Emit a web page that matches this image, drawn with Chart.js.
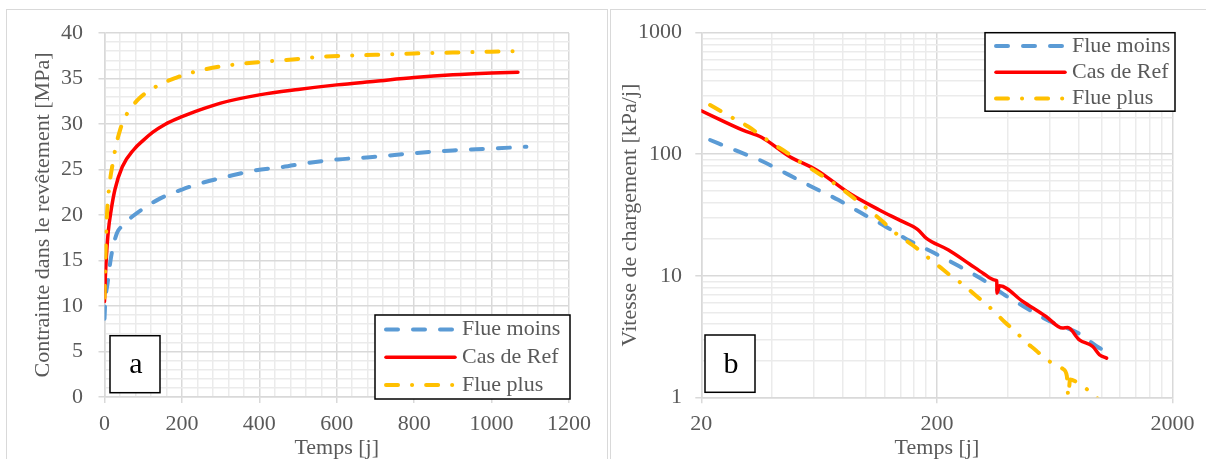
<!DOCTYPE html>
<html>
<head>
<meta charset="utf-8">
<script src="https://cdn.jsdelivr.net/npm/chart.js@4.4.1/dist/chart.umd.min.js"></script>
<style>
  html, body { margin: 0; padding: 0; background: #fff; overflow: hidden; }
  body { width: 1206px; height: 459px; position: relative; }
  .panel { position: absolute; top: 9px; height: 470px; border: 1.5px solid #d9d9d9; box-sizing: border-box; }
  #panelA { left: 6px; width: 602px; }
  #panelB { left: 610px; width: 620px; }
  canvas { position: absolute; top: 0; }
  #chartA { left: 0; }
  #chartB { left: 603px; }
</style>
</head>
<body>
<div class="panel" id="panelA"></div>
<div class="panel" id="panelB"></div>
<canvas id="chartA" width="603" height="470"></canvas>
<canvas id="chartB" width="603" height="470"></canvas>
<script>
// Panneau a : contrainte dans le revêtement [MPa] vs temps [j]
const tempsMoinsA = [0, 2, 8, 17, 32, 46, 71, 100, 143, 200, 250, 315, 388, 457, 530, 602, 700, 800, 900, 1000, 1090];
const contrMoinsA = [8.6, 10.5, 12.5, 15.4, 18, 18.8, 19.8, 20.7, 21.8, 22.8, 23.5, 24.2, 24.9, 25.25, 25.75, 26.1, 26.4, 26.8, 27.1, 27.3, 27.5];
const tempsRefA = [0, 2, 5, 10, 17, 27, 46, 76, 100, 125, 156, 200, 250, 300, 400, 500, 600, 700, 800, 900, 1000, 1068];
const contrRefA = [10.5, 13, 15.5, 18.3, 20.5, 22.8, 25.3, 27.2, 28.2, 29.1, 29.95, 30.8, 31.6, 32.3, 33.2, 33.8, 34.3, 34.7, 35.1, 35.4, 35.6, 35.7];
const tempsPlusA = [0, 2, 4, 7, 14, 21, 30, 40, 50, 66, 87, 117, 156, 186, 221, 259, 296, 341, 412, 486, 564, 700, 800, 900, 1000, 1060];
const contrPlusA = [10.9, 14.5, 17.5, 20.5, 23.7, 25.6, 27.7, 29.3, 30.5, 31.6, 32.7, 33.7, 34.6, 35.1, 35.6, 36, 36.3, 36.55, 36.85, 37.1, 37.4, 37.6, 37.75, 37.85, 37.95, 38];

// Panneau b : vitesse de chargement [kPa/j] vs temps [j] (log-log)
const tempsMoinsB = [21.8, 27.8, 36.1, 46.2, 60.6, 76.5, 94.8, 120, 148, 196, 250, 314, 383, 481, 605, 795, 956, 1060];
const vitMoinsB = [131, 108, 88, 68.9, 52.5, 42, 33.1, 25.7, 20.1, 15.3, 11.9, 9.25, 7.06, 5.41, 4.2, 3.38, 2.62, 2.36];
const tempsRefB = [20, 30, 36, 47.5, 61.6, 85, 114, 141, 166, 180, 224, 275, 314, 351, 359, 360, 369, 463, 581, 683, 718, 805, 917, 979, 1050];
const vitRefB = [228, 158, 138, 95.5, 74.3, 47.8, 34.8, 28.3, 24, 20.4, 16.3, 12.5, 10.5, 9.25, 9.1, 7.2, 8.27, 6.14, 4.62, 3.71, 3.75, 2.97, 2.62, 2.24, 2.1];
const tempsPlusB = [21.8, 24.8, 27.8, 31.6, 36.1, 40.2, 45.5, 51.5, 58, 65.2, 73.7, 82.9, 93.1, 104.8, 116.8, 128.6, 146, 162, 182, 205, 226, 257, 290, 320, 356, 390, 431, 474, 527, 580, 686, 712, 722, 735, 785, 884, 965];
const vitPlusB = [254, 220, 194, 169, 141, 122, 105, 88.5, 76.7, 66.4, 57, 48.3, 40.5, 33.7, 28.4, 23.8, 19.8, 17.2, 14.3, 11.9, 10.2, 8.53, 6.97, 5.96, 4.92, 4.12, 3.48, 2.88, 2.43, 2.06, 1.71, 1.5, 1.02, 1.4, 1.33, 1.13, 0.97];

const serieNames = ['Flue moins', 'Cas de Ref', 'Flue plus'];
const serieColors = ['#5B9BD5', '#FF0000', '#FFC000'];

// tick labels (grid lines in between are minor)
const xLabelsA = [0, 200, 400, 600, 800, 1000, 1200];
const yLabelsA = [0, 5, 10, 15, 20, 25, 30, 35, 40];
const xLabelsB = [20, 200, 2000];
const yLabelsB = [1, 10, 100, 1000];

const GRID_MAJOR = '#d9d9d9';
const GRID_MINOR = '#ebebeb';
const TEXT_GREY = '#595959';
const FONT = "'Liberation Serif', 'Times New Roman', serif";

Chart.defaults.font.family = FONT;
Chart.defaults.color = TEXT_GREY;

const lineStyles = [
  { borderWidth: 4, borderDash: [12, 15] },
  { borderWidth: 3.5, borderDash: [] },
  { borderWidth: 4, borderDash: [12, 14, 0.1, 14] }
];

function pts(xs, ys) {
  return xs.map((x, i) => ({ x: x, y: ys[i] }));
}

function linGrid(min, max, step) {
  const out = [];
  for (let v = min; v <= max + 1e-9; v += step) out.push(v);
  return out;
}

// 1,2..9,10,20..90,100.. style grid for log axes
function logGrid(start, end) {
  const out = [];
  let base = start;
  while (base < end) {
    for (let k = 1; k < 10; k++) out.push(base * k);
    base *= 10;
  }
  out.push(end);
  return out;
}

function makeDatasets(series) {
  return series.map((s, i) => ({
    label: serieNames[i],
    data: pts(s[0], s[1]),
    borderColor: serieColors[i],
    borderWidth: lineStyles[i].borderWidth,
    borderDash: lineStyles[i].borderDash,
    borderCapStyle: 'round',
    borderJoinStyle: 'round',
    pointRadius: 0,
    fill: false,
    cubicInterpolationMode: 'monotone',
    order: 2 - i
  }));
}

function axis(type, labels, grid, opts) {
  return {
    type: type,
    min: opts.min,
    max: opts.max,
    afterBuildTicks: (scale) => { scale.ticks = grid.map(v => ({ value: v })); },
    afterFit: opts.fit,
    ticks: {
      autoSkip: false,
      maxRotation: 0,
      padding: opts.pad,
      font: { size: 22 },
      color: TEXT_GREY,
      callback: (v) => labels.includes(v) ? String(v) : ''
    },
    grid: {
      color: (c) => (c.tick && labels.includes(c.tick.value)) ? GRID_MAJOR : GRID_MINOR,
      lineWidth: 1.5,
      drawTicks: true,
      tickLength: 6,
      tickColor: (c) => (c.tick && labels.includes(c.tick.value)) ? GRID_MAJOR : 'rgba(0,0,0,0)'
    },
    border: { color: GRID_MAJOR, width: 1.5 },
    title: {
      display: true,
      text: opts.title,
      font: { size: 22 },
      color: TEXT_GREY,
      padding: opts.titlePad
    }
  };
}

// legend box and panel letter, drawn inside the plot area
const cadrePlugin = {
  id: 'cadre',
  afterDraw(chart, args, o) {
    const { ctx, chartArea } = chart;
    ctx.save();
    // legend
    const b = o.legend(chartArea);
    ctx.fillStyle = '#fff';
    ctx.fillRect(b.x, b.y, b.w, b.h);
    ctx.strokeStyle = '#000';
    ctx.lineWidth = 1.5;
    ctx.strokeRect(b.x, b.y, b.w, b.h);
    chart.data.datasets.forEach((ds, i) => {
      const y = b.y + o.first + i * o.gap;
      ctx.beginPath();
      ctx.strokeStyle = ds.borderColor;
      ctx.lineWidth = ds.borderWidth;
      ctx.lineCap = 'round';
      ctx.setLineDash(ds.borderDash);
      ctx.moveTo(b.x + 11, y);
      ctx.lineTo(b.x + 80, y);
      ctx.stroke();
      ctx.setLineDash([]);
      ctx.fillStyle = TEXT_GREY;
      ctx.font = '22px ' + FONT;
      ctx.textBaseline = 'middle';
      ctx.textAlign = 'left';
      ctx.fillText(ds.label, b.x + 87, y);
    });
    // panel letter
    const l = o.letter(chartArea);
    ctx.fillStyle = '#fff';
    ctx.fillRect(l.x, l.y, l.w, l.h);
    ctx.strokeStyle = '#000';
    ctx.lineWidth = 1.5;
    ctx.strokeRect(l.x, l.y, l.w, l.h);
    ctx.fillStyle = '#000';
    ctx.font = '30px ' + FONT;
    ctx.textAlign = 'center';
    ctx.textBaseline = 'middle';
    ctx.fillText(o.text, l.x + l.w / 2 + 1, l.y + l.h / 2 + 1);
    ctx.restore();
  }
};

new Chart(document.getElementById('chartA'), {
  type: 'line',
  data: {
    datasets: makeDatasets([[tempsMoinsA, contrMoinsA], [tempsRefA, contrRefA], [tempsPlusA, contrPlusA]])
  },
  options: {
    responsive: false,
    animation: false,
    layout: { padding: { left: 0, top: 33, right: 34, bottom: 0 } },
    scales: {
      x: axis('linear', xLabelsA, linGrid(0, 1200, 40), {
        min: 0, max: 1200, pad: 8, title: 'Temps [j]',
        titlePad: { top: 0, bottom: 9 },
        fit: (s) => { s.height = 73; }
      }),
      y: axis('linear', yLabelsA, linGrid(0, 40, 1), {
        min: 0, max: 40, pad: 15.5, title: 'Contrainte dans le revêtement [MPa]',
        titlePad: { top: 30.5, bottom: 0 },
        fit: (s) => { s.width = 104.5; }
      })
    },
    plugins: {
      legend: { display: false },
      tooltip: { enabled: false },
      cadre: {
        legend: (a) => ({ x: a.right + 1 - 195, y: a.bottom + 2 - 84, w: 195, h: 84 }),
        first: 14.5, gap: 27.8,
        letter: (a) => ({ x: a.left + 5.5, y: a.bottom - 61.3, w: 50, h: 57 }),
        text: 'a'
      }
    }
  },
  plugins: [cadrePlugin]
});

new Chart(document.getElementById('chartB'), {
  type: 'line',
  data: {
    datasets: makeDatasets([[tempsMoinsB, vitMoinsB], [tempsRefB, vitRefB], [tempsPlusB, vitPlusB]])
  },
  options: {
    responsive: false,
    animation: false,
    layout: { padding: { left: 0, top: 32.7, right: 33.5, bottom: 0 } },
    scales: {
      x: axis('logarithmic', xLabelsB, logGrid(20, 2000), {
        min: 20, max: 2000, pad: 8, title: 'Temps [j]',
        titlePad: { top: 0, bottom: 9 },
        fit: (s) => { s.height = 72.7; }
      }),
      y: axis('logarithmic', yLabelsB, logGrid(1, 1000), {
        min: 1, max: 1000, pad: 13.3, title: 'Vitesse de chargement [kPa/j]',
        titlePad: { top: 13.6, bottom: 0 },
        fit: (s) => { s.width = 98.3; }
      })
    },
    plugins: {
      legend: { display: false },
      tooltip: { enabled: false },
      cadre: {
        legend: (a) => ({ x: a.right + 2.5 - 190, y: a.top, w: 190, h: 78.5 }),
        first: 13.2, gap: 26.3,
        letter: (a) => ({ x: a.left + 3.7, y: a.bottom - 62.3, w: 50, h: 57.3 }),
        text: 'b'
      }
    }
  },
  plugins: [cadrePlugin]
});
</script>
</body>
</html>
